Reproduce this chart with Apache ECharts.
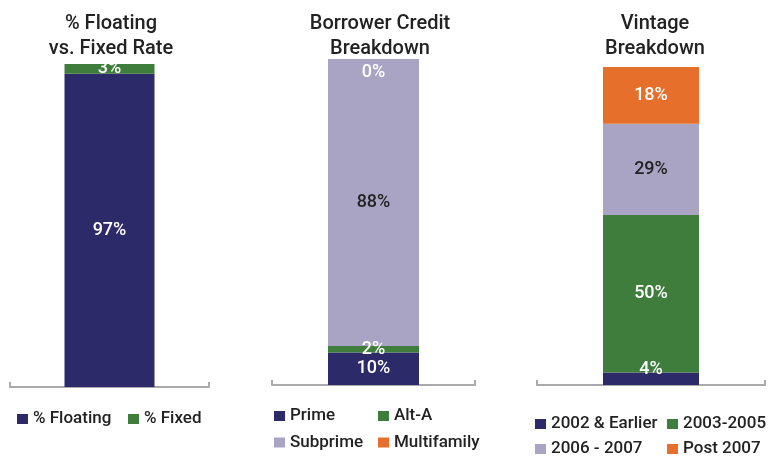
<!DOCTYPE html>
<html>
<head>
<meta charset="UTF-8">
<title>Portfolio Breakdown</title>
<style>
  html, body { margin: 0; padding: 0; background: #fff; }
  #main { width: 772px; height: 456px; }
</style>
</head>
<body>
<div id="main"></div>
<script src="https://cdn.jsdelivr.net/npm/echarts@6/dist/echarts.min.js"></script>
<script>
    // 数据
    var rateNames = ['% Floating', '% Fixed'];
    var rateValues = [97, 3];
    var creditNames = ['Prime', 'Alt-A', 'Subprime', 'Multifamily'];
    var creditValues = [10, 2, 88, 0];
    var vintageNames = ['2002 & Earlier', '2003-2005', '2006 - 2007', 'Post 2007'];
    var vintageValues = [4, 50, 29, 18];

    var navy = '#2d2a6a', green = '#3e7d3b', lilac = '#aaa4c4', orange = '#e56f2b';
    var rateColors = [navy, green];
    var fourColors = [navy, green, lilac, orange];

    var font = 'Roboto, "Liberation Sans", sans-serif';

    function makeSeries(names, values, colors, idx) {
        return names.map(function (name, i) {
            var dark = colors[i] === lilac;
            return {
                name: name,
                type: 'bar',
                stack: 'p' + idx,
                xAxisIndex: idx,
                yAxisIndex: idx,
                barWidth: [90, 91, 96][idx],
                itemStyle: { color: colors[i] },
                label: {
                    show: true,
                    position: 'inside',
                    formatter: '{c}%',
                    color: dark ? '#222' : '#fff',
                    fontFamily: font,
                    fontSize: 18,
                    fontWeight: 500
                },
                data: [values[i]]
            };
        });
    }

    var series = [].concat(
        makeSeries(rateNames, rateValues, rateColors, 0),
        makeSeries(creditNames, creditValues, fourColors, 1),
        makeSeries(vintageNames, vintageValues, fourColors, 2)
    );
    // 0% 的 Multifamily 只显示一条细线，标签放在下面
    series[5].barMinHeight = 1;
    series[5].label.position = 'bottom';
    series[5].label.distance = 4;
    // 4% 标签往上挪
    series[6].label.offset = [0, -9];

    function axisX(i) {
        return {
            type: 'category',
            gridIndex: i,
            data: [''],
            axisLine: { lineStyle: { color: '#aaa', width: 2 } },
            axisTick: { show: true, inside: true, length: 5, lineStyle: { color: '#aaa', width: 2 } },
            axisLabel: { show: false }
        };
    }
    function axisY(i, max) {
        return { type: 'value', gridIndex: i, min: 0, max: max, show: false };
    }

    var titleStyle = { fontFamily: font, fontSize: 20, fontWeight: 500, color: '#222', lineHeight: 25 };
    function legend(data, left, top, gap) {
        return {
            data: data,
            orient: 'vertical',
            left: left,
            top: top,
            height: 80,
            padding: 0,
            itemWidth: 11,
            itemHeight: 10,
            itemGap: gap,
            icon: 'rect',
            selectedMode: false,
            textStyle: { fontFamily: font, fontSize: 17, fontWeight: 500, color: '#222', lineHeight: 20 }
        };
    }

    var myChart = echarts.init(document.getElementById('main'));
    var option = {
        animation: false,
        title: [
            { text: '% Floating\nvs. Fixed Rate', left: 106, top: 6, textAlign: 'center', textStyle: titleStyle },
            { text: 'Borrower Credit\nBreakdown', left: 375, top: 6, textAlign: 'center', textStyle: titleStyle },
            { text: 'Vintage\nBreakdown', left: 650, top: 6, textAlign: 'center', textStyle: titleStyle }
        ],
        legend: [
            legend(['% Floating'], 17, 409, 6),
            legend(['% Fixed'], 128, 409, 6),
            legend(['Prime', 'Subprime'], 274, 406, 6.5),
            legend(['Alt-A', 'Multifamily'], 378, 406, 6.5),
            legend(['2002 & Earlier', '2006 - 2007'], 535, 414, 5),
            legend(['2003-2005', 'Post 2007'], 667, 414, 5)
        ],
        grid: [
            { left: 10, width: 199, top: 64, height: 323 },
            { left: 272, width: 203, top: 59, height: 326 },
            { left: 537, width: 228, top: 67, height: 318 }
        ],
        xAxis: [axisX(0), axisX(1), axisX(2)],
        yAxis: [axisY(0, 100), axisY(1, 100), axisY(2, 101)],
        series: series
    };
    myChart.setOption(option);
</script>
</body>
</html>
